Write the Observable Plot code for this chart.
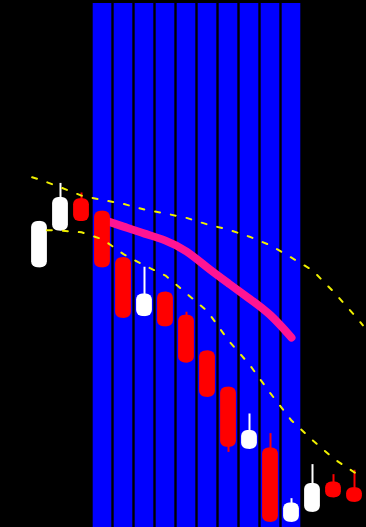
<!DOCTYPE html>
<html>
<head>
<meta charset="utf-8">
<script src="https://cdn.jsdelivr.net/npm/d3@7"></script>
<script src="https://cdn.jsdelivr.net/npm/@observablehq/plot@0.6"></script>
<style>
html, body { margin: 0; padding: 0; background: #000; }
#chart svg { display: block; }
</style>
</head>
<body>
<div id="chart"></div>
<script>
// Session index of each candle
const sessions = [0, 1, 2, 3, 4, 5, 6, 7, 8, 9, 10, 11, 12, 13, 14, 15];
const opens  = [25.95, 26.79, 27.53, 27.24, 26.18, 24.83, 25.39, 24.86, 24.04, 23.21, 21.79, 21.82, 20.12, 20.35, 21.04, 20.91];
const closes = [27.01, 27.56, 27.01, 25.95, 24.79, 25.35, 24.60, 23.77, 22.98, 21.84, 22.22, 20.12, 20.56, 21.01, 20.68, 20.58];
const highs  = [27.01, 27.88, 27.66, 27.24, 26.18, 25.96, 25.39, 24.93, 24.04, 23.21, 22.60, 22.15, 20.66, 21.44, 21.21, 21.31];
const lows   = [25.95, 26.79, 27.01, 25.95, 24.79, 24.83, 24.60, 23.77, 22.98, 21.72, 21.79, 20.12, 20.12, 20.35, 20.68, 20.58];

// Upper dashed band (positions along the session axis)
const upperSessions = [-0.35, 0, 1, 2, 3, 4, 5, 6, 7, 8, 9, 10, 11, 12, 13, 14, 15, 15.4];
const upperBand = [28.02, 27.97, 27.79, 27.60, 27.50, 27.41, 27.28, 27.19, 27.09, 26.94, 26.82, 26.66, 26.46, 26.18, 25.89, 25.40, 24.86, 24.63];
// Lower dashed band
const lowerSessions = [0.35, 1, 2, 3, 4, 5, 6, 7, 8, 9, 10, 11, 12, 13, 14, 15, 15.4];
const lowerBand = [26.81, 26.80, 26.76, 26.60, 26.26, 26.00, 25.77, 25.36, 24.95, 24.28, 23.73, 23.07, 22.45, 22.00, 21.58, 21.26, 21.17];

// Highlighted sessions and the pink average line over them
const highlighted = [3, 4, 5, 6, 7, 8, 9, 10, 11, 12];
const pinkLine = [27.05, 26.89, 26.73, 26.57, 26.32, 25.95, 25.59, 25.24, 24.86, 24.35];

const candles = sessions.map((s, k) => ({
  i: s, open: opens[k], close: closes[k], high: highs[k], low: lows[k],
  color: closes[k] >= opens[k] ? "#ffffff" : "#ff0000"
}));
const upper = upperSessions.map((s, k) => ({i: s, v: upperBand[k]}));
const lower = lowerSessions.map((s, k) => ({i: s, v: lowerBand[k]}));
const pink = highlighted.map((s, k) => ({i: s, v: pinkLine[k]}));

const chart = Plot.plot({
  width: 366,
  height: 527,
  marginTop: 3,
  marginBottom: 0,
  marginLeft: 28.5,
  marginRight: 1.5,
  style: {background: "#000000"},
  x: {type: "linear", domain: [-0.5, 15.5], axis: null},
  y: {domain: [20, 32], axis: null},
  color: {type: "identity"},
  marks: [
    Plot.rect(highlighted, {x1: d => d - 0.5, x2: d => d + 0.5, fill: "#0000ff", insetLeft: 1.2, insetRight: 1.2}),
    Plot.line(pink, {x: "i", y: "v", stroke: "#ff1493", strokeWidth: 8, strokeLinecap: "round", curve: "natural"}),
    Plot.ruleX(candles, {x: "i", y1: "low", y2: "high", stroke: "color", strokeWidth: 2}),
    Plot.rect(candles, {x1: d => d.i - 0.5, x2: d => d.i + 0.5, y1: "open", y2: "close", fill: "color", insetLeft: 2.6, insetRight: 2.6, rx: 6}),
    Plot.line(upper, {x: "i", y: "v", stroke: "#f0f000", strokeWidth: 2, strokeDasharray: "5,11"}),
    Plot.line(lower, {x: "i", y: "v", stroke: "#f0f000", strokeWidth: 2, strokeDasharray: "5,11"})
  ]
});
document.getElementById("chart").append(chart);
</script>
</body>
</html>
